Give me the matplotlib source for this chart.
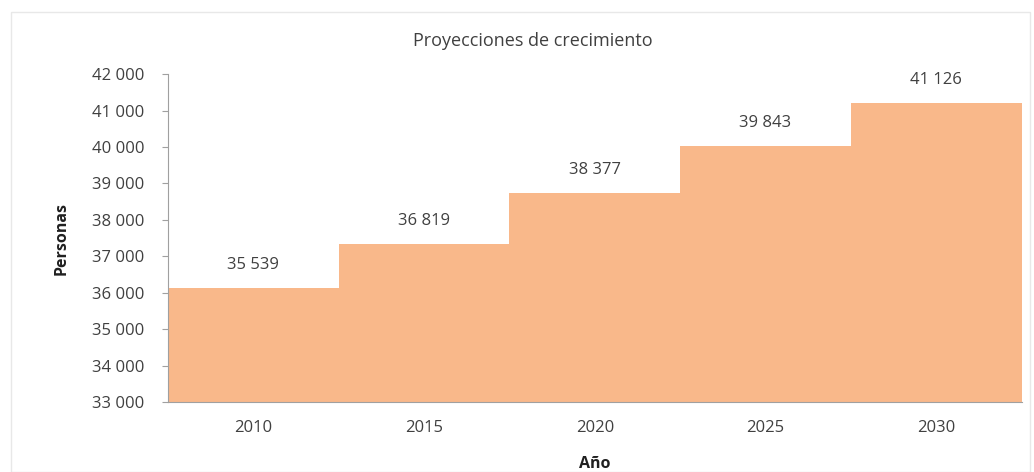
import matplotlib.pyplot as plt
from matplotlib.patches import Rectangle

# data
years = ['2010', '2015', '2020', '2025', '2030']
bar_heights = [36140, 37340, 38730, 40020, 41200]
persons = [35539, 36819, 38377, 39843, 41126]
y_ticks = [33000, 34000, 35000, 36000, 37000, 38000, 39000, 40000, 41000, 42000]

bar_colour = '#F9B88A'
text_colour = '#404040'

plt.rcParams['font.family'] = ['Open Sans', 'DejaVu Sans']

fig = plt.figure(figsize=(10.34, 4.72), dpi=100)
ax = fig.add_axes([0.1625, 0.148, 0.8255, 0.695])

# light frame round the whole chart
fig.patches.append(Rectangle((0.011, 0.0), 0.985, 0.975, transform=fig.transFigure,
                             fill=False, edgecolor='#e8e8e8', linewidth=1))

x = range(len(years))
ax.bar(x, [h - 33000 for h in bar_heights], bottom=33000, width=1.0,
       color=bar_colour, edgecolor='none')

# value labels above each bar
for i, p in enumerate(persons):
    label = f'{p:,}'.replace(',', ' ')
    ax.text(i, bar_heights[i] + 630, label, ha='center', va='center',
            fontsize=12, color=text_colour)

ax.set_xlim(-0.5, 4.5)
ax.set_ylim(33000, 42000)
ax.set_xticks(list(x))
ax.set_xticklabels(years, fontsize=12, color=text_colour)
ax.set_yticks(y_ticks)
ax.set_yticklabels([f'{t:,}'.replace(',', ' ') for t in y_ticks], fontsize=12, color=text_colour)

ax.tick_params(axis='x', length=0, pad=13)
ax.tick_params(axis='y', length=4, width=0.8, color='#a0a0a0', pad=13)

for side in ['top', 'right']:
    ax.spines[side].set_visible(False)
ax.spines['left'].set_color('#a0a0a0')
ax.spines['bottom'].set_color('#a0a0a0')

ax.set_ylabel('Personas', fontsize=11.5, fontweight='bold', color='#202020', labelpad=16)
ax.set_xlabel('Año', fontsize=11.5, fontweight='bold', color='#202020', labelpad=14)
fig.text(0.515, 0.913, 'Proyecciones de crecimiento', ha='center', va='center',
         fontsize=13, color=text_colour)

fig.savefig('out.png', dpi=100, facecolor='white')
